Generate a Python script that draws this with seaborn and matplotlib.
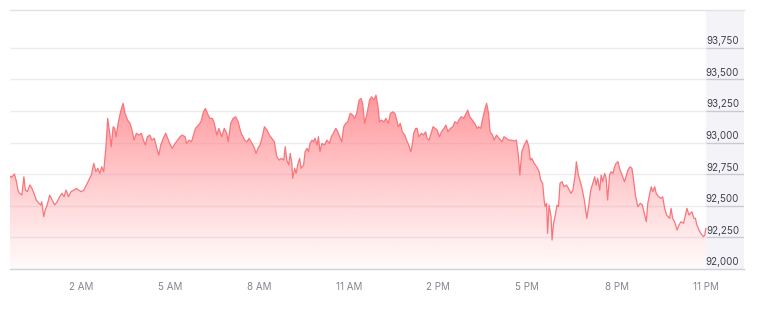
import numpy as np
import pandas as pd
import matplotlib
matplotlib.use("Agg")
import matplotlib.pyplot as plt
import seaborn as sns
from matplotlib.colors import to_rgb

# minutes since midnight (negative = previous evening)
minutes = [
    -23, -20, -14, -10, -7, -4, 1, 5, 8, 12,
    17, 21, 25, 30, 35, 39, 41, 45, 48, 52,
    57, 62, 67, 72, 77, 82, 86, 90, 95, 100,
    106, 111, 115, 121, 126, 131, 136, 141, 146, 150,
    154, 158, 162, 166, 171, 174, 178, 181, 185, 188,
    191, 195, 200, 205, 209,
    214, 219, 223, 227, 232, 237, 242, 246, 250, 254,
    259, 263, 268, 273, 277, 281, 286, 291, 295, 299,
    304, 310, 315, 320, 324, 330, 333, 338, 343, 346,
    351, 357, 362, 367, 371, 375, 380, 385, 389, 394,
    398, 404, 409, 414, 417, 422, 427, 432, 437, 443, 447,
    450, 455, 459, 465, 470, 473, 477, 481, 485, 490,
    495, 500, 505, 510, 515, 520, 524, 529, 532, 535,
    539, 542, 545, 547, 551, 554, 557, 561, 564, 569,
    572, 576, 579, 582, 586, 589, 592, 596, 599, 602,
    606, 611, 616, 621, 625, 629, 634, 638, 643, 646,
    650, 654, 658, 663, 668, 672, 676, 681, 685,
    688, 692, 697, 702, 706, 711, 715, 719, 722, 726,
    731, 735, 740, 744, 749, 753, 756, 760, 764, 768,
    773, 778, 781, 785, 788, 791, 795, 798, 801, 807,
    811, 815, 818, 822, 825, 830, 834, 838, 843, 847,
    852, 856, 860, 865, 870, 874, 879, 882, 887, 892,
    895, 900, 904, 909, 914, 919,
    922, 926, 931, 935, 938, 942, 945, 950, 953, 958,
    963, 969, 973, 978, 983, 989, 994, 998, 1002, 1005,
    1009, 1014, 1019, 1023, 1026, 1029, 1034, 1039, 1044, 1047,
    1051, 1054, 1056, 1059, 1061, 1064, 1068, 1070, 1073, 1076,
    1080, 1083, 1086, 1090, 1094, 1099, 1103, 1108, 1112, 1117,
    1119, 1123, 1128, 1131, 1135, 1140, 1144, 1148, 1153,
    1156, 1159, 1162, 1166, 1169, 1172, 1176, 1179, 1182, 1186,
    1189, 1193, 1196, 1199, 1203, 1206, 1211, 1216, 1219, 1223,
    1227, 1231, 1234, 1238, 1243, 1248, 1252, 1256, 1260, 1263,
    1267, 1270, 1273, 1277, 1280, 1285, 1290, 1293, 1297, 1301,
    1307, 1310, 1313, 1317, 1322, 1326, 1330, 1335, 1339, 1342,
    1346, 1349, 1352, 1356, 1359, 1362, 1366, 1370, 1375, 1378, 1380,
]

prices = [
    92736, 92725, 92752, 92691, 92625, 92601, 92585, 92730, 92625, 92612,
    92665, 92641, 92601, 92546, 92522, 92506, 92532, 92414, 92467, 92506,
    92585, 92546, 92506, 92532, 92572, 92599, 92572, 92625, 92572, 92612,
    92625, 92638, 92625, 92612, 92625, 92665, 92704, 92744, 92836, 92770,
    92797, 92757, 92809, 92770, 92994, 93192, 93074, 92968, 93126, 93113,
    93047, 93153, 93244, 93311, 93232,
    93179, 93153, 93100, 93020, 93074, 93060, 93074, 93020, 92981, 93047,
    93060, 93020, 93034, 92955, 92902, 92981, 93034, 93074, 93034, 92994,
    92955, 92994, 93020, 93047, 93060, 93047, 92994, 93020, 93007, 93047,
    93113, 93139, 93165, 93244, 93271, 93232, 93192, 93192, 93153, 93060,
    93113, 93047, 93113, 93074, 93007, 93153, 93192, 93205, 93165, 93074, 93047,
    93020, 93007, 93034, 92994, 92955, 92915, 92955, 92981, 93034, 93126,
    93100, 93060, 93034, 93007, 92888, 92862, 92876, 92862, 92968, 92862,
    92823, 92915, 92849, 92718, 92797, 92757, 92823, 92876, 92797, 92823,
    92928, 92955, 92928, 92994, 93020, 93007, 93034, 92981, 93047, 92928,
    92994, 92981, 93020, 92994, 93047, 93074, 93113, 93086, 93034, 93007,
    93126, 93153, 93165, 93232, 93218, 93192, 93232, 93337, 93350,
    93311, 93153, 93232, 93337, 93363, 93337, 93376, 93284, 93165, 93179,
    93165, 93192, 93153, 93232, 93244, 93232, 93192, 93126, 93153, 93086,
    93060, 93007, 92981, 92928, 92981, 93074, 93113, 93113, 93047, 93074,
    93060, 93086, 93034, 93020, 93060, 93126, 93113, 93100, 93047, 93086,
    93113, 93139, 93086, 93113, 93126, 93165, 93153, 93179, 93205, 93192,
    93218, 93258, 93205, 93179, 93153, 93113,
    93126, 93113, 93205, 93271, 93311, 93232, 93086, 93060, 93020, 93060,
    93034, 93007, 93047, 93034, 93020, 93020, 93012, 93020, 92902, 92744,
    92928, 92981, 93020, 92968, 92862, 92876, 92836, 92809, 92770, 92704,
    92678, 92546, 92493, 92520, 92282, 92506, 92414, 92229, 92362, 92414,
    92506, 92493, 92678, 92691, 92651, 92665, 92638, 92599, 92625, 92757,
    92849, 92744, 92678, 92625, 92546, 92401, 92506, 92625, 92691,
    92730, 92665, 92718, 92625, 92744, 92691, 92757, 92718, 92546, 92744,
    92770, 92757, 92809, 92836, 92849, 92797, 92744, 92691, 92730, 92783,
    92809, 92797, 92718, 92585, 92493, 92520, 92506, 92441, 92374, 92520,
    92599, 92651, 92612, 92651, 92599, 92572, 92559, 92572, 92480, 92427,
    92401, 92480, 92401, 92374, 92309, 92348, 92374, 92362, 92427, 92480,
    92427, 92441, 92453, 92401, 92401, 92348, 92309, 92282, 92256, 92269, 92322,
]

tick_minutes = [120, 300, 480, 660, 840, 1020, 1200, 1380]
tick_labels = ["2 AM", "5 AM", "8 AM", "11 AM", "2 PM", "5 PM", "8 PM", "11 PM"]
y_ticks = [92000, 92250, 92500, 92750, 93000, 93250, 93500, 93750]

sns.set_style("white")
plt.rcParams["font.family"] = ["Inter", "DejaVu Sans"]

fig = plt.figure(figsize=(7.7, 3.2), dpi=100)
ax = fig.add_axes([10 / 770, 51 / 320, 734 / 770, 259 / 320])

x0, x1 = -23, 1457
panel_start = 1381
y0, y1 = 92000, 94050

ax.axvspan(panel_start, x1, color="#f4f4f8", zorder=0, lw=0)
for v in y_ticks[1:]:
    ax.plot([x0, panel_start], [v, v], color="#ececf0", lw=1, zorder=1, solid_capstyle="butt")
    ax.plot([panel_start, x1], [v, v], color="#c9cad3", lw=1, zorder=1, solid_capstyle="butt")

df = pd.DataFrame({"minute": minutes, "price": prices})

poly = ax.fill_between(df["minute"], df["price"], y0, color="none", lw=0)
clip_path = poly.get_paths()[0]
n = 256
grad = np.linspace(1, 0, n)[:, None]
rgba = np.zeros((n, 1, 4))
rgba[..., :3] = to_rgb("#ff7a80")
rgba[..., 3] = 0.04 + 0.74 * grad ** 1.1
im = ax.imshow(rgba, extent=[df["minute"].min(), df["minute"].max(), y0, df["price"].max()],
               aspect="auto", origin="upper", zorder=2, interpolation="bilinear")
im.set_clip_path(clip_path, transform=ax.transData)

sns.lineplot(data=df, x="minute", y="price", ax=ax, color="#f7767c", lw=0.9, zorder=3)

ax.set_xlim(x0, x1)
ax.set_ylim(y0, y1)
ax.set_xlabel("")
ax.set_ylabel("")
ax.set_yticks([])
ax.set_xticks(tick_minutes)
ax.set_xticklabels(tick_labels)
ax.tick_params(axis="x", length=2.5, width=0.8, color="#cfd0d8", pad=7,
               labelsize=7, labelcolor="#85858f")

for side in ["left", "right"]:
    ax.spines[side].set_visible(False)
ax.spines["top"].set_color("#e2e2e8")
ax.spines["top"].set_linewidth(1)
ax.spines["bottom"].set_color("#cfd0d8")
ax.spines["bottom"].set_linewidth(1)

for v in y_ticks:
    ax.annotate(f"{v:,}", xy=(x1, v), xytext=(-3.5, 1.2), textcoords="offset points",
                ha="right", va="bottom", fontsize=7, color="#3e3f4b", zorder=5)

fig.savefig("out.png", dpi=100)
